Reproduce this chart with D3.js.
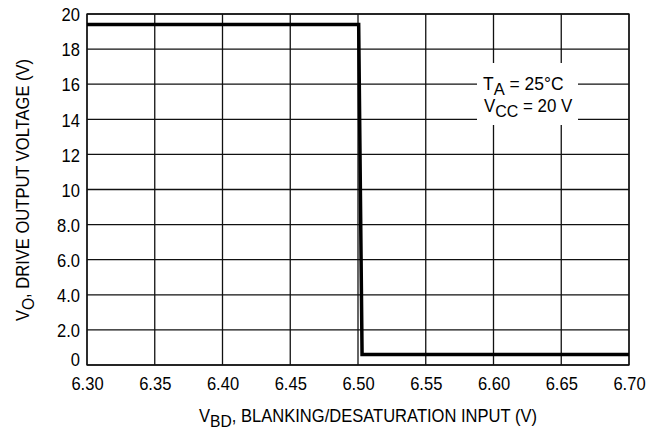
<!DOCTYPE html>
<html><head><meta charset="utf-8">
<script src="https://cdn.jsdelivr.net/npm/d3@7"></script>
<style>body{margin:0;background:#fff}svg{display:block}text{font-family:"Liberation Sans",Arial,sans-serif;fill:#000}</style>
</head><body><svg id="c" width="655" height="434"></svg>
<script>
const xTicks = [6.30, 6.35, 6.40, 6.45, 6.50, 6.55, 6.60, 6.65, 6.70];
const xTickLabels = ["6.30","6.35","6.40","6.45","6.50","6.55","6.60","6.65","6.70"];
const yTicks = [0, 2, 4, 6, 8, 10, 12, 14, 16, 18, 20];
const yTickLabels = ["0","2.0","4.0","6.0","8.0","10","12","14","16","18","20"];
const curveX = [6.30, 6.5005, 6.5030, 6.70];
const curveY = [19.4, 19.4, 0.6, 0.6];

const svg = d3.select("#c");
const L = 87, R = 629, T = 14, B = 365;
const SX = 0.92;
const x = d3.scaleLinear().domain([6.30, 6.70]).range([L, R]);
const y = d3.scaleLinear().domain([0, 20]).range([B, T]);

// grid
const g = svg.append("g");
g.selectAll(".vg").data(xTicks).join("line")
  .attr("x1", d => x(d)).attr("x2", d => x(d)).attr("y1", T).attr("y2", B)
  .attr("stroke", "#111").attr("stroke-width", 1.3);
g.selectAll(".hg").data(yTicks).join("line")
  .attr("x1", L).attr("x2", R).attr("y1", d => y(d)).attr("y2", d => y(d))
  .attr("stroke", "#111").attr("stroke-width", 1.3);
g.append("rect").attr("x", L).attr("y", T).attr("width", R - L).attr("height", B - T)
  .attr("fill", "none").attr("stroke", "#111").attr("stroke-width", 1.3);

// axes labels via d3 axes
const xAxis = d3.axisBottom(x).tickValues(xTicks).tickFormat((d, i) => xTickLabels[i]).tickSize(0).tickPadding(12);
const xa = svg.append("g").attr("transform", `translate(0,${B})`).call(xAxis);
const yAxis = d3.axisLeft(y).tickValues(yTicks).tickFormat((d, i) => yTickLabels[i]).tickSize(0).tickPadding(0);
const ya = svg.append("g").attr("transform", `translate(${L},0)`).call(yAxis);
[xa, ya].forEach(a => {
  a.select(".domain").remove();
  a.selectAll("text").attr("font-size", 18).attr("font-family", "Liberation Sans, Arial, sans-serif").attr("fill", "#000");
});
xa.selectAll("text").attr("transform", `scale(${SX},1)`);
ya.selectAll("text").attr("x", 0)
  .attr("transform", (d, i) => `translate(-7,${i === 0 ? -5 : 1}) scale(${SX},1)`);

// annotation box
svg.append("rect").attr("x", 477).attr("y", 63).attr("width", 101).attr("height", 62).attr("fill", "#fff");
function label(xp, yp, main, sub, rest, sx, anchor, rot) {
  const t = svg.append("text")
    .attr("transform", `translate(${xp},${yp})${rot ? " rotate(" + rot + ")" : ""} scale(${sx},1)`)
    .attr("font-size", 18).attr("text-anchor", anchor);
  t.append("tspan").text(main);
  t.append("tspan").attr("font-size", 17).attr("dy", 5).text(sub);
  t.append("tspan").attr("dy", -5).text(rest);
  return t;
}
label(483, 90, "T", "A", " = 25°C", 0.97, "start");
label(484, 112, "V", "CC", " = 20 V", 0.94, "start");

// curve
const pts = curveX.map((d, i) => [d, curveY[i]]);
svg.append("path").datum(pts)
  .attr("d", d3.line().x(d => x(d[0])).y(d => y(d[1])))
  .attr("fill", "none").attr("stroke", "#000").attr("stroke-width", 3.5).attr("stroke-linejoin", "miter");

// axis titles
label(368, 422, "V", "BD", ", BLANKING/DESATURATION INPUT (V)", SX, "middle");
label(29, 190, "V", "O", ", DRIVE OUTPUT VOLTAGE (V)", SX, "middle", -90);
</script></body></html>
